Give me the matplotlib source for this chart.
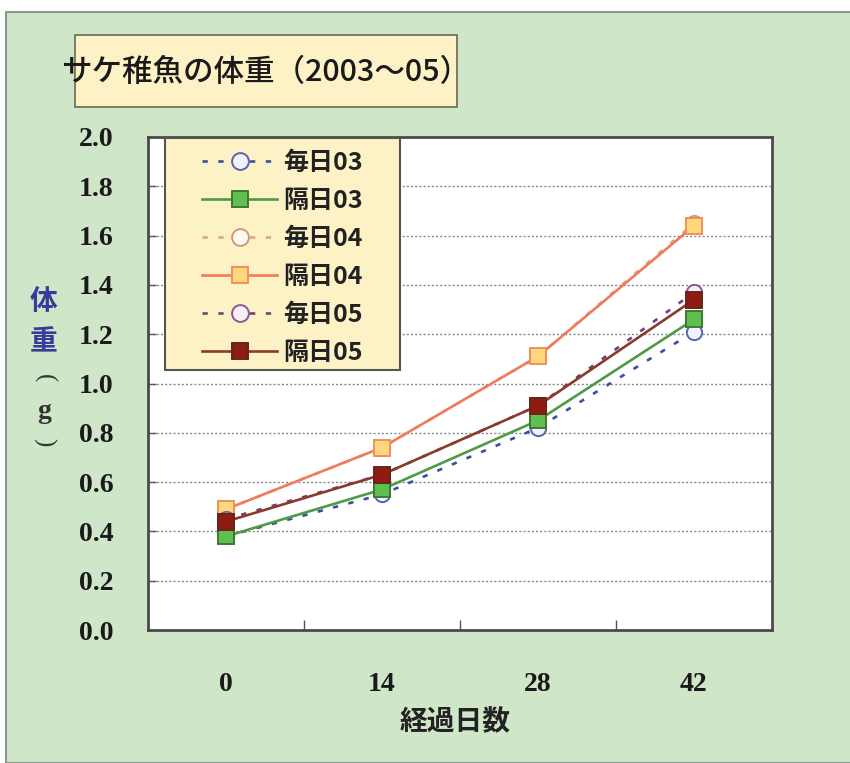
import numpy as np
import matplotlib.pyplot as plt
from matplotlib.patches import Rectangle

plt.rcParams['font.family'] = ['Noto Sans CJK JP', 'DejaVu Sans']

# 経過日数 and 体重 (g) per group
days = ["0", "14", "28", "42"]
mainichi03 = [0.38, 0.55, 0.82, 1.21]
kakujitsu03 = [0.38, 0.57, 0.85, 1.26]
mainichi04 = [0.49, 0.74, 1.11, 1.65]
kakujitsu04 = [0.49, 0.74, 1.11, 1.64]
mainichi05 = [0.45, 0.63, 0.91, 1.37]
kakujitsu05 = [0.44, 0.63, 0.91, 1.34]

series = [
  ("毎日03", mainichi03, dict(color='#3a4fa0', ls=(0, (2, 4)), marker='o', mfc='#f2f2ff', mec='#5a62b0')),
  ("隔日03", kakujitsu03, dict(color='#4e9a45', ls='-', marker='s', mfc='#5fbf4f', mec='#3d7a35')),
  ("毎日04", mainichi04, dict(color='#d8a688', ls=(0, (2, 4)), marker='o', mfc='#fff8f0', mec='#d09a78')),
  ("隔日04", kakujitsu04, dict(color='#f07a5a', ls='-', marker='s', mfc='#ffd77e', mec='#f0905a')),
  ("毎日05", mainichi05, dict(color='#7a3a7a', ls=(0, (2, 4)), marker='o', mfc='#f8eef8', mec='#8a5a8a')),
  ("隔日05", kakujitsu05, dict(color='#8a3a2a', ls='-', marker='s', mfc='#8e1c12', mec='#6a2418')),
]

fig = plt.figure(figsize=(8.5, 7.63), dpi=100, facecolor='white')

# green panel behind everything
fig.patches.append(Rectangle((6/850, 0), 1, 1 - 12/763, transform=fig.transFigure,
                             facecolor='#cfe6c9', edgecolor='#8a9a88', lw=1.5, zorder=-2))

# title box
fig.patches.append(Rectangle((75/850, 1 - 107/763), 382/850, 72/763, transform=fig.transFigure,
                             facecolor='#fdf2c6', edgecolor='#6a6a50', lw=1.2, zorder=-1))
fig.text(266/850, 1 - 72/763, "サケ稚魚の体重（2003～05）", ha='center', va='center',
         fontsize=22, fontweight='medium', color='#1a1a1a', zorder=2)

ax = fig.add_axes([148/850, 1 - 630/763, 624/850, 493/763])
ax.set_zorder(1)
ax.set_facecolor('white')
x = np.arange(len(days))
for name, vals, st in series:
  ax.plot(x, vals, label=name, lw=1.9, ms=11, mew=1.4, **st)

ax.set_xlim(-0.5, len(days) - 0.5)
ax.set_ylim(0, 2.0)
ax.set_yticks(np.arange(0, 2.01, 0.2))
ax.set_yticklabels(["%.1f" % v for v in np.arange(0, 2.01, 0.2)])
ax.set_xticks(x)
ax.set_xticklabels(days)
ax.set_xticks(x[:-1] + 0.5, minor=True)
ax.tick_params(axis='x', which='major', length=0, pad=30)
ax.tick_params(axis='x', which='minor', direction='in', length=7, width=1, color='#555555')
ax.tick_params(axis='y', direction='in', length=6, width=1, color='#555555', pad=25)
for lab in ax.get_xticklabels() + ax.get_yticklabels():
  lab.set_fontfamily('Liberation Serif')
  lab.set_fontweight('bold')
  lab.set_fontsize(20)
  lab.set_color('#1a1a1a')

ax.yaxis.grid(True, color='#888888', ls=(0, (1.5, 1.5)), lw=1)
ax.set_axisbelow(True)
for sp in ax.spines.values():
  sp.set_color('#4a4a4a')
  sp.set_linewidth(2)

ax.set_xlabel("経過日数", fontsize=20, fontweight='bold', color='#222222', va='center')
ax.xaxis.set_label_coords((455 - 148) / 624, (630 - 722) / 493)

# vertical y label: 体重 then (g) written top to bottom
for ch, yy in [("体", 302), ("重", 342)]:
  fig.text(44/850, 1 - yy/763, ch, ha='center', va='center', fontsize=20,
           fontweight='bold', color='#3a3a9a')
fig.text(44/850, 1 - 378/763, "(", ha='center', va='center', fontsize=18, rotation=-90,
         family='Liberation Serif', color='#333333')
fig.text(44/850, 1 - 412/763, "g", ha='center', va='center', fontsize=20,
         family='Liberation Serif', fontweight='bold', color='#333333')
fig.text(44/850, 1 - 442/763, ")", ha='center', va='center', fontsize=18, rotation=-90,
         family='Liberation Serif', color='#333333')

# legend box drawn separately so its padding can be wider than the entries need
ax.add_patch(Rectangle((165/850, 1 - 370/763), 235/850, 232/763, transform=fig.transFigure,
                       facecolor='#fdf2c6', edgecolor='#555555', lw=1.5, zorder=4,
                       clip_on=False))
leg = ax.legend(loc='upper left', bbox_to_anchor=(202/850, 1 - 151/763),
                bbox_transform=fig.transFigure, frameon=False,
                fontsize=18, handlelength=3.0, handletextpad=0.25, labelspacing=0.56,
                borderpad=0, borderaxespad=0, markerscale=1.1)
leg.set_zorder(5)
for t in leg.get_texts():
  t.set_fontweight('bold')
  t.set_color('#222222')

fig.savefig('out.png', dpi=100, facecolor=fig.get_facecolor())
